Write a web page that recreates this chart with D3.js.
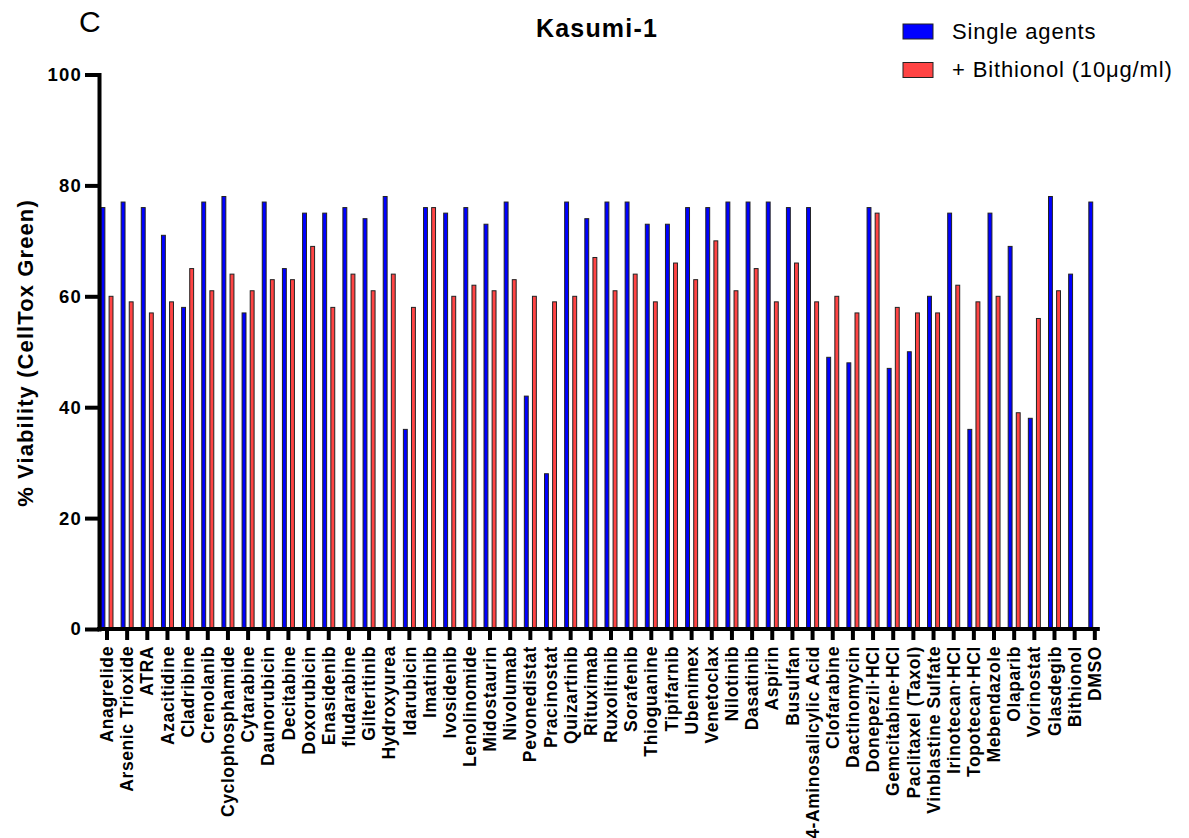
<!DOCTYPE html>
<html>
<head>
<meta charset="utf-8">
<script src="https://cdn.jsdelivr.net/npm/d3@7"></script>
<style>
  html, body { margin: 0; padding: 0; background: #fff; }
  svg { display: block; font-family: "Liberation Sans", Arial, Helvetica, sans-serif; }
</style>
</head>
<body>
<svg id="chart" width="1189" height="838"></svg>
<script>
// Kasumi-1 viability screen: each drug alone vs. combined with Bithionol
const drugs = [
  "Anagrelide", "Arsenic Trioxide", "ATRA", "Azacitidine", "Cladribine",
  "Crenolanib", "Cyclophosphamide", "Cytarabine", "Daunorubicin", "Decitabine",
  "Doxorubicin", "Enasidenib", "fludarabine", "Gilteritinib", "Hydroxyurea",
  "Idarubicin", "Imatinib", "Ivosidenib", "Lenolinomide", "Midostaurin",
  "Nivolumab", "Pevonedistat", "Pracinostat", "Quizartinib", "Rituximab",
  "Ruxolitinib", "Sorafenib", "Thioguanine", "Tipifarnib", "Ubenimex",
  "Venetoclax", "Nilotinib", "Dasatinib", "Aspirin", "Busulfan",
  "4-Aminosalicylic Acid", "Clofarabine", "Dactinomycin", "Donepezil·HCl", "Gemcitabine·HCl",
  "Paclitaxel (Taxol)", "Vinblastine Sulfate", "Irinotecan·HCl", "Topotecan·HCl", "Mebendazole",
  "Olaparib", "Vorinostat", "Glasdegib", "Bithionol", "DMSO"
];

const singleAgents = [
  76, 77, 76, 71, 58, 77, 78, 57, 77, 65,
  75, 75, 76, 74, 78, 36, 76, 75, 76, 73,
  77, 42, 28, 77, 74, 77, 77, 73, 73, 76,
  76, 77, 77, 77, 76, 76, 49, 48, 76, 47,
  50, 60, 75, 36, 75, 69, 38, 78, 64, 77
];

const withBithionol = [
  60, 59, 57, 59, 65, 61, 64, 61, 63, 63,
  69, 58, 64, 61, 64, 58, 76, 60, 62, 61,
  63, 60, 59, 60, 67, 61, 64, 59, 66, 63,
  70, 61, 65, 59, 66, 59, 60, 57, 75, 58,
  57, 57, 62, 59, 60, 39, 56, 61, null, null
];

const yTicks = [0, 20, 40, 60, 80, 100];

const seriesKeys = ["single", "combo"];
const seriesNames = ["Single agents", "+ Bithionol (10\u03BCg/ml)"];
const seriesColors = ["#0000FF", "#FF4444"];

const svg = d3.select("#chart");

// scales
const x0 = d3.scaleBand().domain(drugs).range([96.9, 1104.9]).padding(0);
const x1 = d3.scaleBand().domain(seriesKeys).range([-6, 6]).paddingInner(0.52).paddingOuter(0);
const y = d3.scaleLinear().domain([0, 100]).range([629, 74.5]);
const color = d3.scaleOrdinal().domain(seriesKeys).range(seriesColors);

const rows = drugs.map((d, i) => ({ drug: d, single: singleAgents[i], combo: withBithionol[i] }));

// bars
const groups = svg.append("g").selectAll("g")
  .data(rows)
  .join("g")
  .attr("transform", d => `translate(${x0(d.drug) + x0.bandwidth() / 2},0)`);

groups.selectAll("rect")
  .data(d => seriesKeys.filter(k => d[k] != null).map(k => ({ key: k, value: d[k] })))
  .join("rect")
  .attr("x", d => x1(d.key))
  .attr("width", x1.bandwidth())
  .attr("y", d => y(d.value))
  .attr("height", d => y(0) - y(d.value))
  .attr("fill", d => color(d.key))
  .attr("stroke", "#222")
  .attr("stroke-width", 1);

// x axis
const xAxis = svg.append("g")
  .attr("transform", `translate(0,${y(0)})`)
  .call(d3.axisBottom(x0).tickSize(11).tickSizeOuter(0));
xAxis.select(".domain").remove();
xAxis.selectAll(".tick line").attr("stroke", "#000").attr("stroke-width", 4);
xAxis.selectAll(".tick text")
  .attr("transform", "rotate(-90)")
  .attr("text-anchor", "end")
  .attr("x", -17)
  .attr("y", 0)
  .attr("dy", "0.35em")
  .attr("fill", "#000")
  .style("font-family", "'Liberation Sans', Arial, sans-serif")
  .style("font-size", "17.5px")
  .style("font-weight", "bold")
  .style("letter-spacing", "0.6px");

const xEnd = x0(drugs[drugs.length - 1]) + x0.bandwidth() / 2 + 5;
svg.append("line")
  .attr("x1", 97).attr("x2", xEnd)
  .attr("y1", y(0)).attr("y2", y(0))
  .attr("stroke", "#000").attr("stroke-width", 4);

// y axis
const yAxis = svg.append("g")
  .attr("transform", "translate(99,0)")
  .call(d3.axisLeft(y).tickValues(yTicks).tickSize(14).tickPadding(3).tickSizeOuter(0));
yAxis.select(".domain").attr("stroke", "#000").attr("stroke-width", 4).attr("stroke-linecap", "square");
yAxis.selectAll(".tick line").attr("stroke", "#000").attr("stroke-width", 4);
yAxis.selectAll(".tick text")
  .attr("fill", "#000")
  .style("font-family", "'Liberation Sans', Arial, sans-serif")
  .style("font-size", "18.5px")
  .style("font-weight", "bold")
  .style("letter-spacing", "1.2px");

// y axis title
svg.append("text")
  .attr("transform", "translate(33,353) rotate(-90)")
  .attr("text-anchor", "middle")
  .style("font-size", "22px")
  .style("font-weight", "bold")
  .style("letter-spacing", "1.1px")
  .text("% Viability (CellTox Green)");

// chart title and panel letter
svg.append("text")
  .attr("x", 597).attr("y", 37)
  .attr("text-anchor", "middle")
  .style("font-size", "25px")
  .style("font-weight", "bold")
  .style("letter-spacing", "1.2px")
  .text("Kasumi-1");

svg.append("text")
  .attr("x", 79).attr("y", 32)
  .style("font-size", "30px")
  .text("C");

// legend
const legend = svg.append("g").attr("transform", "translate(903,24)");
const legendItems = legend.selectAll("g")
  .data(seriesKeys)
  .join("g")
  .attr("transform", (d, i) => `translate(0,${i * 38.5})`);
legendItems.append("rect")
  .attr("width", 30).attr("height", 15)
  .attr("fill", d => color(d))
  .attr("stroke", "#222").attr("stroke-width", 1);
legendItems.append("text")
  .attr("x", 49).attr("y", 14.5)
  .style("font-size", "22px")
  .style("letter-spacing", "0.85px")
  .text((d, i) => seriesNames[i]);
</script>
</body>
</html>
